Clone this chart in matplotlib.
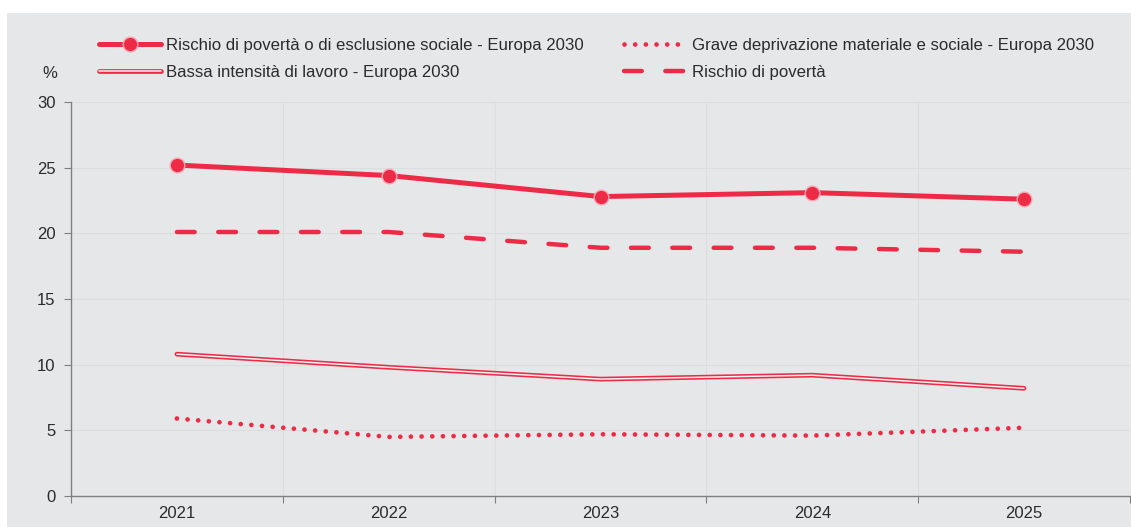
import matplotlib.pyplot as plt
from matplotlib.patches import Rectangle
from matplotlib.legend_handler import HandlerTuple

plt.rcParams['font.family'] = ['Liberation Sans', 'DejaVu Sans']

# dati
anni = ['2021', '2022', '2023', '2024', '2025']
rischio_esclusione = [25.2, 24.4, 22.8, 23.1, 22.6]
rischio_poverta = [20.1, 20.1, 18.9, 18.9, 18.6]
bassa_intensita = [10.8, 9.8, 8.9, 9.2, 8.2]
grave_deprivazione = [5.9, 4.5, 4.7, 4.6, 5.2]

rosso = '#EE2B47'
sfondo = '#E6E7E9'
testo = '#2B2B2B'

fig = plt.figure(figsize=(11.31, 5.27), dpi=100, facecolor='white')
fig.patches.append(Rectangle((7 / 1131, 0), 1, (527 - 13) / 527,
                             transform=fig.transFigure, facecolor=sfondo,
                             edgecolor='none', zorder=-10))

ax = fig.add_axes([71 / 1131, 1 - 496 / 527, (1130 - 71) / 1131, (496 - 102) / 527])
ax.set_facecolor('none')
x = list(range(len(anni)))

l1, = ax.plot(x, rischio_esclusione, color=rosso, lw=3.6, marker='o',
              markersize=10.5, markerfacecolor=rosso, markeredgecolor='#F7A6B2',
              markeredgewidth=1.0, solid_capstyle='round', zorder=5)
l4, = ax.plot(x, rischio_poverta, color=rosso, lw=3.2, linestyle=(0, (4.0, 5.3)),
              dash_capstyle='round', zorder=4)
l2a, = ax.plot(x, bassa_intensita, color=rosso, lw=3.4, solid_capstyle='round', zorder=3)
l2b, = ax.plot(x, bassa_intensita, color='#F4F0F1', lw=1.1, solid_capstyle='round', zorder=3)
l3, = ax.plot(x, grave_deprivazione, color=rosso, lw=3.4, linestyle=(0, (0.01, 2.25)),
              dash_capstyle='round', zorder=3)

ax.set_xlim(-0.5, len(anni) - 0.5)
ax.set_ylim(0, 30)
ax.set_yticks(range(0, 31, 5))
ax.set_xticks([i - 0.5 for i in range(len(anni) + 1)])
ax.set_xticklabels([])
ax.set_xticks(x, minor=True)
ax.set_xticklabels(anni, minor=True)
ax.tick_params(axis='x', which='minor', length=0, pad=7, labelsize=12, labelcolor=testo)
ax.tick_params(axis='x', which='major', length=5, color='#808080')
ax.tick_params(axis='y', length=5, color='#808080', labelsize=12, labelcolor=testo, pad=6)
ax.grid(True, which='major', color='#DCDDDF', lw=0.8)
ax.set_axisbelow(True)
for s in ['top', 'right']:
    ax.spines[s].set_visible(False)
for s in ['left', 'bottom']:
    ax.spines[s].set_color('#808080')
    ax.spines[s].set_linewidth(1.0)

fig.text(50 / 1131, 1 - 74 / 527, '%', fontsize=12, color=testo, ha='center', va='center')

handles = [l1, (l2a, l2b), l3, l4]
labels = ['Rischio di povertà o di esclusione sociale - Europa 2030',
          'Bassa intensità di lavoro - Europa 2030',
          'Grave deprivazione materiale e sociale - Europa 2030',
          'Rischio di povertà']
fig.legend(handles, labels, ncol=2, loc='upper left',
           bbox_to_anchor=(84 / 1131, 1 - 23 / 527), frameon=False,
           fontsize=12.1, labelcolor=testo, handlelength=3.7, handletextpad=0.3,
           columnspacing=2.4, labelspacing=0.68,
           handler_map={tuple: HandlerTuple(ndivide=1)})

fig.savefig('out.png', dpi=100, facecolor='white')
